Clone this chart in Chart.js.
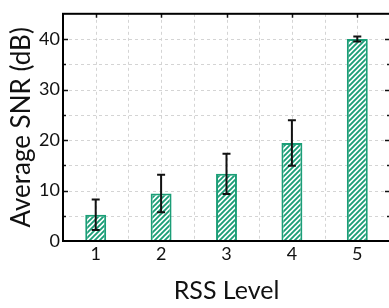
<!DOCTYPE html>
<html>
<head>
<meta charset="utf-8">
<script src="https://cdn.jsdelivr.net/npm/chart.js@4/dist/chart.umd.min.js"></script>
<style>
  html, body { margin: 0; padding: 0; background: #fff; overflow: hidden; }
  #wrap { width: 389px; height: 308px; overflow: hidden; }
</style>
</head>
<body>
<div id="wrap"><canvas id="snr" width="392" height="308"></canvas></div>
<script>
const levels = ['1', '2', '3', '4', '5'];
const avgSnr = [5.2, 9.4, 13.3, 19.4, 40.0];
const snrErr = [3.0, 3.7, 4.0, 4.5, 0.5];
const yTicks = [0, 10, 20, 30, 40];

const green = '#1b9e77';

// diagonal hatch for the bars
function hatch() {
    const s = 5;
    const c = document.createElement('canvas');
    c.width = s; c.height = s;
    const g = c.getContext('2d');
    g.fillStyle = '#fff';
    g.fillRect(0, 0, s, s);
    g.strokeStyle = green;
    g.lineWidth = 1.9;
    g.beginPath();
    g.moveTo(-1, s + 1); g.lineTo(s + 1, -1);
    g.moveTo(-1, 1); g.lineTo(1, -1);
    g.moveTo(s - 1, s + 1); g.lineTo(s + 1, s - 1);
    g.stroke();
    return g.createPattern(c, 'repeat');
}

const ctx = document.getElementById('snr').getContext('2d');

const frame = {
    id: 'frame',
    beforeDatasetsDraw(chart) {
        const { ctx, chartArea: a, scales: { x, y } } = chart;
        ctx.save();
        ctx.strokeStyle = '#d4d4d4';
        ctx.lineWidth = 1;
        ctx.setLineDash([3, 3]);
        ctx.beginPath();
        for (let v = 5; v < 45; v += 5) {
            const py = Math.round(y.getPixelForValue(v)) + 0.5;
            ctx.moveTo(a.left, py); ctx.lineTo(a.right, py);
        }
        for (let i = 0; i < levels.length; i++) {
            const px = Math.round(x.getPixelForValue(i)) + 0.5;
            ctx.moveTo(px, a.top); ctx.lineTo(px, a.bottom);
            if (i < levels.length - 1) {
                const mx = Math.round((x.getPixelForValue(i) + x.getPixelForValue(i + 1)) / 2) + 0.5;
                ctx.moveTo(mx, a.top); ctx.lineTo(mx, a.bottom);
            }
        }
        ctx.stroke();
        ctx.restore();
    },
    afterDatasetsDraw(chart) {
        const { ctx, chartArea: a, scales: { x, y } } = chart;
        const meta = chart.getDatasetMeta(0);
        ctx.save();
        // error bars
        ctx.strokeStyle = '#111';
        ctx.lineWidth = 2;
        meta.data.forEach((bar, i) => {
            const top = y.getPixelForValue(avgSnr[i] + snrErr[i]);
            const bot = y.getPixelForValue(avgSnr[i] - snrErr[i]);
            ctx.beginPath();
            ctx.moveTo(bar.x, top); ctx.lineTo(bar.x, bot);
            ctx.moveTo(bar.x - 4, top); ctx.lineTo(bar.x + 4, top);
            ctx.moveTo(bar.x - 4, bot); ctx.lineTo(bar.x + 4, bot);
            ctx.stroke();
        });
        // inward ticks
        ctx.lineWidth = 1.5;
        ctx.beginPath();
        for (let v = 5; v < 45; v += 5) {
            const py = Math.round(y.getPixelForValue(v)) + 0.5;
            const len = v % 10 === 0 ? 5 : 3;
            ctx.moveTo(a.left, py); ctx.lineTo(a.left + len, py);
            ctx.moveTo(a.right, py); ctx.lineTo(a.right - len, py);
        }
        for (let i = 0; i < levels.length; i++) {
            const px = Math.round(x.getPixelForValue(i)) + 0.5;
            ctx.moveTo(px, a.top); ctx.lineTo(px, a.top + 4);
        }
        ctx.stroke();
        // axes box
        ctx.lineWidth = 2;
        ctx.strokeStyle = '#000';
        ctx.strokeRect(a.left, a.top, a.right - a.left, a.bottom - a.top);
        ctx.restore();
    }
};

new Chart(ctx, {
    type: 'bar',
    data: {
        labels: levels,
        datasets: [{
            data: avgSnr,
            backgroundColor: hatch(),
            borderColor: green,
            borderWidth: 2,
            barPercentage: 0.32,
            categoryPercentage: 1
        }]
    },
    options: {
        responsive: false,
        animation: false,
        layout: { padding: { top: 7, right: 2, left: 0, bottom: 0 } },
        plugins: { legend: { display: false }, tooltip: { enabled: false } },
        scales: {
            x: {
                grid: { display: false, drawTicks: false },
                border: { display: false },
                ticks: { color: '#111', font: { family: 'Lato', size: 18 }, padding: 2 },
                title: {
                    display: true, text: 'RSS Level', color: '#111',
                    font: { family: 'Lato', size: 25 }, padding: { top: 0, bottom: 2 }
                },
                afterFit: (s) => { s.height = 67; }
            },
            y: {
                min: 0,
                max: 45,
                grid: { display: false, drawTicks: false },
                border: { display: false },
                ticks: {
                    stepSize: 5,
                    padding: 3,
                    color: '#111',
                    font: { family: 'Lato', size: 18 },
                    callback: (v) => yTicks.includes(v) ? v : ''
                },
                title: {
                    display: true, text: 'Average SNR (dB)', color: '#111',
                    font: { family: 'Lato', size: 26 }, padding: { top: 6, bottom: 0 }
                },
                afterFit: (s) => { s.width = 63; }
            }
        }
    },
    plugins: [frame]
});
</script>
</body>
</html>
